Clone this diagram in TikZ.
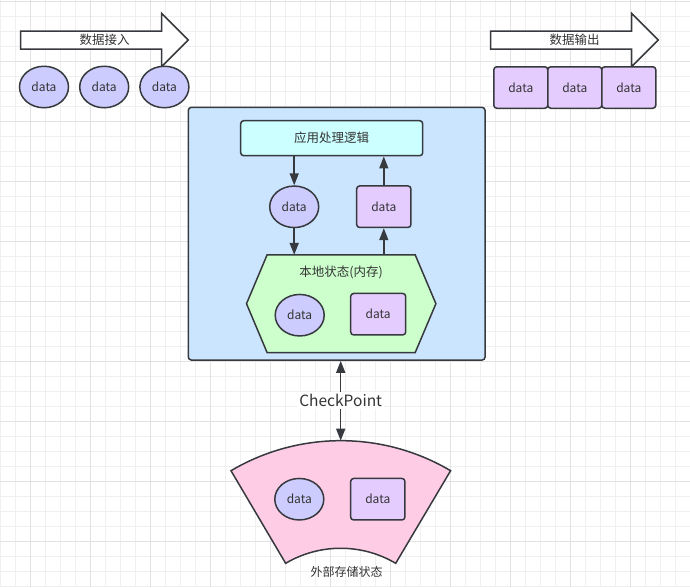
\documentclass[tikz,border=0pt]{standalone}
\usepackage{fontspec}
\setmainfont{Noto Sans CJK SC}
\usetikzlibrary{shapes.geometric,arrows.meta}
\definecolor{gridfine}{HTML}{F0F0F0}
\definecolor{gridbold}{HTML}{E2E2E2}
\definecolor{edge}{HTML}{36393D}
\definecolor{txt}{HTML}{333333}
\definecolor{jobfill}{HTML}{CCE5FF}
\definecolor{appfill}{HTML}{CCFFFF}
\definecolor{memfill}{HTML}{CCFFCC}
\definecolor{extfill}{HTML}{FFCCE6}
\definecolor{infill}{HTML}{CCCCFF}
\definecolor{outfill}{HTML}{E5CCFF}

\begin{document}
\begin{tikzpicture}[
x=1pt,y=-1pt,
every node/.append style={font={\fontsize{12}{14}\selectfont},text=txt},
label/.style={font={\fontsize{12.5}{15}\selectfont}},
outline/.style={draw=edge,line width=1.5pt},
din/.style={outline,ellipse,fill=infill,minimum width=49pt,minimum height=41.5pt,inner sep=0pt},
dout/.style={outline,rounded corners=3pt,fill=outfill,minimum width=54pt,minimum height=41.5pt,inner sep=0pt},
bigarrow/.style={draw=edge,line width=1.5pt,fill=white,line join=miter},
flow/.style={-{Triangle[length=12pt,width=9pt]},draw=edge,line width=1.5pt},
both/.style={{Triangle[length=12pt,width=9pt]}-{Triangle[length=12pt,width=9pt]},draw=edge,line width=1.5pt},
]
\useasboundingbox (0,0) rectangle (690,587);

% background grid
\foreach \x in {0,15,...,690} \draw[gridfine,line width=1pt] (\x,0) -- (\x,587);
\foreach \y in {1,16,...,587} \draw[gridfine,line width=1pt] (0,\y) -- (690,\y);
\foreach \x in {30,90,...,690} \draw[gridbold,line width=1pt] (\x,0) -- (\x,587);
\foreach \y in {1,61,...,587} \draw[gridbold,line width=1pt] (0,\y) -- (690,\y);

% input / output arrows
\draw[bigarrow] (20.7,31) -- (161.7,31) -- (161.7,13.5) -- (188.3,40) -- (161.7,66.5)
  -- (161.7,49) -- (20.7,49) -- cycle;
\node[label] (inTitle) at (104.5,40) {数据接入};
\draw[bigarrow] (490.7,31) -- (631.7,31) -- (631.7,13.5) -- (658.3,40) -- (631.7,66.5)
  -- (631.7,49) -- (490.7,49) -- cycle;
\node[label] (outTitle) at (574.5,40) {数据输出};

\matrix (inRow) [column sep=9.7pt,inner sep=0pt] at (104.2,87) {
\node[din] (I1) {data}; & \node[din] (I2) {data}; & \node[din] (I3) {data}; \\
};
\matrix (outRow) [column sep=-1.5pt,inner sep=0pt] at (574.8,87.5) {
\node[dout] (O1) {data}; & \node[dout] (O2) {data}; & \node[dout] (O3) {data}; \\
};

% job
\node[outline,fill=jobfill,rounded corners=3pt,minimum width=296.7pt,minimum height=252.7pt] (job) at (336.7,233.7) {};
\node[label,outline,fill=appfill,rounded corners=3pt,minimum width=182pt,minimum height=35pt] (app) at (331.7,138.2) {应用处理逻辑};
\node[din] (D1) at (294.2,206.8) {data};
\node[dout,minimum width=54.3pt] (D2) at (383.8,206.7) {data};

% local state
\node[minimum width=189pt,minimum height=97.3pt,inner sep=0pt] (mem) at (341.2,303.7) {};
\draw[outline,fill=memfill,line join=miter] (mem.west) -- ([xshift=20.6pt]mem.north west) -- ([xshift=-20.7pt]mem.north east)
  -- (mem.east) -- ([xshift=-20.7pt]mem.south east) -- ([xshift=20.6pt]mem.south west) -- cycle;
\node[label] (memTitle) at (341,272.7) {本地状态(内存)};
\node[din] (M1) at (299.7,315.2) {data};
\node[dout,minimum width=55pt] (M2) at (378.2,314.2) {data};

\draw[flow] (app.south -| D1) -- (D1);
\draw[flow] (D1) -- (D1 |- mem.north);
\draw[flow] (mem.north -| D2) -- (D2);
\draw[flow] (D2) -- (D2 |- app.south);

% external storage
\coordinate (store) at (340.7,440.7);
\draw[outline,fill=extfill,line join=miter] (231,470.7) arc[start angle=120.6,end angle=59.4,radius=215.7pt]
  -- (395.7,563.3) arc[start angle=59.4,end angle=120.6,radius=108.1pt] -- cycle;
\node[din] (E1) at (299.3,499.2) {data};
\node[dout,minimum width=54.3pt] (E2) at (377.8,499.2) {data};
\node (extTitle) at (346.7,572) {外部存储状态};

\draw[both] (job.south -| store) -- (store)
  node[midway,fill=white,inner sep=2pt,font={\fontsize{15.5}{18}\selectfont}] {CheckPoint};

\end{tikzpicture}
\end{document}
